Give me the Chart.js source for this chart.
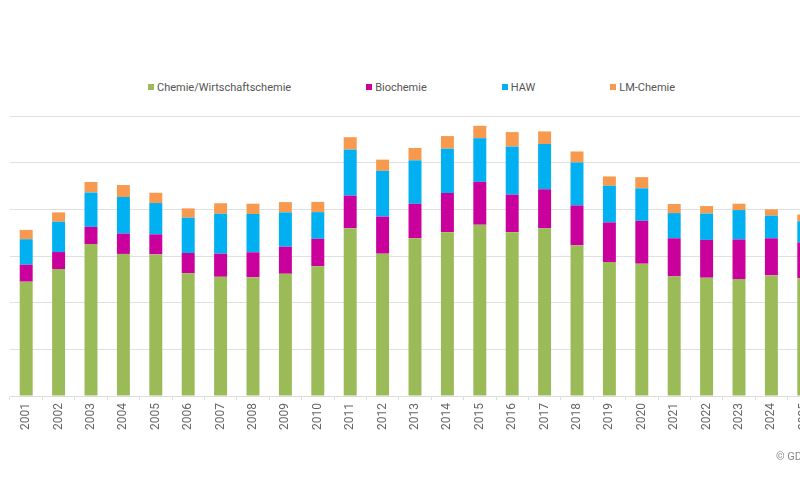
<!DOCTYPE html>
<html>
<head>
<meta charset="utf-8">
<script src="https://cdn.jsdelivr.net/npm/chart.js@4/dist/chart.umd.min.js"></script>
<style>
  html, body { margin: 0; padding: 0; background: #fff; overflow: hidden; width: 800px; height: 500px; }
  #wrap { position: absolute; left: 0; top: 0; width: 830px; height: 500px; }
  #legend { position: absolute; left: 148px; top: 81px; display: flex; gap: 75px;
            font: 11px Roboto, "Noto Sans", sans-serif; color: #555; white-space: nowrap; }
  #legend span.box { display: inline-block; width: 6px; height: 6px; margin-right: 3px; vertical-align: 1px; }
  #copy { position: absolute; left: 776px; top: 450px; font: 11px Roboto, sans-serif; color: #888; white-space: nowrap; }
</style>
</head>
<body>
<div id="legend"></div>
<div id="wrap"><canvas id="myChart"></canvas></div>
<div id="copy">© GDCh</div>
<script>
// Jahre
var years = ["2001","2002","2003","2004","2005","2006","2007","2008","2009","2010","2011","2012","2013",
             "2014","2015","2016","2017","2018","2019","2020","2021","2022","2023","2024","2025"];

// Werte je Studiengang
var chemie = [4900,5440,6510,6090,6070,5260,5110,5090,5240,5560,7190,6100,6760,7020,7340,7020,7190,6460,5740,5670,5130,5070,5010,5170,5040];
var biochemie = [730,730,740,870,860,870,990,1070,1160,1180,1400,1590,1480,1680,1840,1610,1670,1710,1700,1840,1630,1620,1700,1590,1540];
var haw = [1090,1300,1470,1570,1340,1510,1710,1640,1470,1140,1970,1960,1860,1900,1870,2060,1940,1840,1570,1390,1080,1130,1260,970,910];
var lmChemie = [400,400,450,510,440,400,450,440,440,440,530,480,530,540,530,620,540,470,400,480,390,320,270,270,290];

var seriesNames = ["Chemie/Wirtschaftschemie", "Biochemie", "HAW", "LM-Chemie"];
var seriesColors = ["#9bbb59", "#c9009c", "#00b0f0", "#f79a4f"];
var seriesData = [chemie, biochemie, haw, lmChemie];

// Legende als HTML
var legend = document.getElementById("legend");
for (var i = 0; i < seriesNames.length; i++) {
    var item = document.createElement("div");
    item.innerHTML = '<span class="box" style="background:' + seriesColors[i] + '"></span>' + seriesNames[i];
    legend.appendChild(item);
}

var datasets = [];
for (var i = 0; i < seriesNames.length; i++) {
    datasets.push({
        label: seriesNames[i],
        data: seriesData[i],
        backgroundColor: seriesColors[i],
        barPercentage: 0.4,
        categoryPercentage: 1.0
    });
}

var ctx = document.getElementById('myChart').getContext('2d');
var myChart = new Chart(ctx, {
    type: 'bar',
    data: { labels: years, datasets: datasets },
    options: {
        responsive: true,
        maintainAspectRatio: false,
        animation: false,
        layout: { padding: { left: 10, right: 10, top: 116, bottom: 67 } },
        plugins: { legend: { display: false }, tooltip: { enabled: false } },
        scales: {
            x: {
                stacked: true,
                grid: { drawOnChartArea: false, color: "#dddddd", tickLength: 4 },
                border: { color: "#dddddd" },
                ticks: {
                    autoSkip: false, minRotation: 90, maxRotation: 90, padding: 3,
                    color: "#666", font: { family: "Roboto", size: 12 }
                }
            },
            y: {
                stacked: true,
                min: 0, max: 12000,
                ticks: { display: false, stepSize: 2000 },
                grid: { color: "#e0e0e0", drawTicks: false },
                border: { display: false }
            }
        }
    }
});
</script>
</body>
</html>
